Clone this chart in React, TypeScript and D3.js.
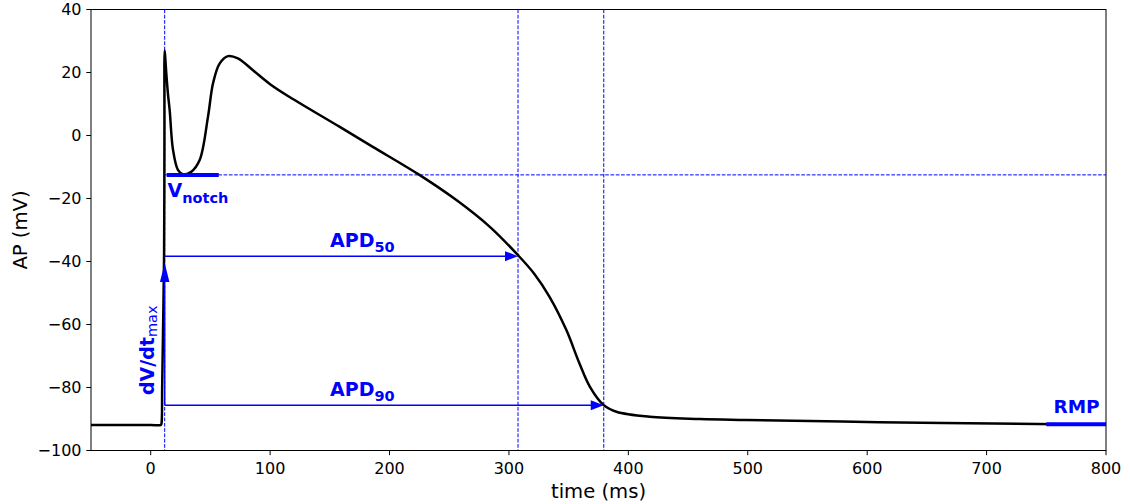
import React from "react";
import * as d3 from "d3";

const timeMs = [-50, 0, 8.5, 9, 9.6, 10.4, 11.2, 11.5, 11.7, 12.3, 13.2, 14.5, 15.9, 18.7, 22.9, 27, 34, 41, 48, 52.2, 57.8, 64.7, 73, 85.4, 100, 116, 158, 186, 225, 256, 284, 307.6, 321, 334, 348, 359, 367.7, 379.4, 390, 418, 460, 499, 610, 743, 800];
const voltage = [-91.9, -91.9, -91.9, -91.5, -80, -60, -38, 0, 27, 24, 19, 13, 8, -4.6, -11, -12.3, -11.5, -7.8, 6, 16.6, 22.9, 25.2, 24.5, 20.8, 16.3, 12.3, 2.8, -3.6, -12.5, -20.5, -29, -38, -43.8, -51.2, -61.7, -72.3, -79.7, -85.6, -87.7, -89.3, -90, -90.3, -91, -91.6, -91.8];

const xTicks = [0, 100, 200, 300, 400, 500, 600, 700, 800];
const yTicks = [40, 20, 0, -20, -40, -60, -80, -100];

const tUpstroke = 11.7;
const tApd50 = 307.6;
const tApd90 = 379.4;
const vNotch = -12.5;
const vApd50 = -38.3;
const vApd90 = -85.6;
const vDvdtTip = -40.5;
const notchSpan = [13.4, 57];
const rmpSpan = [750, 800];
const vRmp = -91.7;

const W = 1130, H = 504;
const L = 91, R = 1106, T = 9.5, B = 450.5;
const BLUE = "#0000ff";
const FONT = "DejaVu Sans, sans-serif";

export default function App() {
  const x = d3.scaleLinear().domain([-50, 800]).range([L, R]);
  const y = d3.scaleLinear().domain([-100, 40]).range([B, T]);
  const pts: [number, number][] = timeMs.map((t, i) => [t, voltage[i]]);
  const line = d3
    .line<[number, number]>()
    .x((d) => x(d[0]))
    .y((d) => y(d[1]))
    .curve(d3.curveCatmullRom.alpha(0.5));

  const hHead = (tx: number, ty: number, len: number, w: number) =>
    `M${tx},${ty} L${tx - len},${ty - w / 2} L${tx - len},${ty + w / 2} Z`;
  const vHead = (tx: number, ty: number, len: number, w: number) =>
    `M${tx},${ty} L${tx - w / 2},${ty + len} L${tx + w / 2},${ty + len} Z`;

  const xu = x(tUpstroke);
  const fmt = (v: number) => (v < 0 ? "\u2212" + Math.abs(v) : String(v));
  return (
    <svg width={W} height={H} style={{ position: "absolute", left: 0, top: 0, background: "#fff" }} fontFamily={FONT}>
      <defs>
        <clipPath id="plot">
          <rect x={L} y={T} width={R - L} height={B - T} />
        </clipPath>
      </defs>
      {/* dashed guides */}
      <g stroke={BLUE} strokeWidth={1} strokeDasharray="3.7,1.6" fill="none">
        <line x1={xu} x2={xu} y1={T} y2={B} />
        <line x1={x(tApd50)} x2={x(tApd50)} y1={T} y2={B} />
        <line x1={x(tApd90)} x2={x(tApd90)} y1={T} y2={B} />
        <line x1={x(tUpstroke + 0.5)} x2={R} y1={y(vNotch)} y2={y(vNotch)} />
      </g>
      {/* AP trace */}
      <path d={line(pts) || ""} fill="none" stroke="#000" strokeWidth={2.5} clipPath="url(#plot)" strokeLinejoin="round" />
      {/* thick markers */}
      <line x1={x(notchSpan[0])} x2={x(notchSpan[1])} y1={y(vNotch)} y2={y(vNotch)} stroke={BLUE} strokeWidth={4} />
      <line x1={x(rmpSpan[0])} x2={x(rmpSpan[1])} y1={y(vRmp)} y2={y(vRmp)} stroke={BLUE} strokeWidth={4} />
      {/* arrows */}
      <g stroke={BLUE} strokeWidth={1.5} fill="none">
        <line x1={xu} x2={x(tApd50) - 12} y1={y(vApd50)} y2={y(vApd50)} />
        <line x1={xu} x2={x(tApd90) - 12} y1={y(vApd90)} y2={y(vApd90)} />
        <line x1={xu} x2={xu} y1={y(vApd90)} y2={y(vDvdtTip) + 17} />
      </g>
      <g fill={BLUE} stroke="none">
        <path d={hHead(x(tApd50), y(vApd50), 13, 10)} />
        <path d={hHead(x(tApd90), y(vApd90), 13, 10)} />
        <path d={vHead(xu, y(vDvdtTip), 19, 9.5)} />
      </g>
      {/* labels */}
      <g fill={BLUE} fontWeight="bold">
        <text x={167.5} y={197} fontSize={19}>
          V<tspan fontSize={14.5} dy={6}>notch</tspan>
        </text>
        <text x={330} y={246.5} fontSize={19}>
          APD<tspan fontSize={14.5} dy={5.5}>50</tspan>
        </text>
        <text x={330} y={395.5} fontSize={19}>
          APD<tspan fontSize={14.5} dy={5.5}>90</tspan>
        </text>
        <text x={1076.5} y={413} fontSize={18.5} textAnchor="middle">RMP</text>
        <text transform={`translate(${154},${395}) rotate(-90)`} fontSize={19}>
          dV/dt<tspan fontSize={14.5} fontWeight="normal" dy={3}>max</tspan>
        </text>
      </g>
      {/* axes frame */}
      <rect x={L} y={T} width={R - L} height={B - T} fill="none" stroke="#000" strokeWidth={1} />
      {/* ticks */}
      <g fontSize={16} fill="#000">
        {xTicks.map((t) => (
          <g key={"x" + t}>
            <line x1={x(t)} x2={x(t)} y1={B} y2={B + 4.7} stroke="#000" strokeWidth={1} />
            <text x={x(t)} y={473.5} textAnchor="middle">{fmt(t)}</text>
          </g>
        ))}
        {yTicks.map((v) => (
          <g key={"y" + v}>
            <line x1={L - 4.7} x2={L} y1={y(v)} y2={y(v)} stroke="#000" strokeWidth={1} />
            <text x={L - 9.5} y={y(v)} dy="0.36em" textAnchor="end">{fmt(v)}</text>
          </g>
        ))}
      </g>
      <text x={(L + R) / 2} y={498} fontSize={19.6} textAnchor="middle" fill="#000">time (ms)</text>
      <text transform={`translate(${27},${(T + B) / 2}) rotate(-90)`} fontSize={19.6} textAnchor="middle" fill="#000">AP (mV)</text>
    </svg>
  );
}
